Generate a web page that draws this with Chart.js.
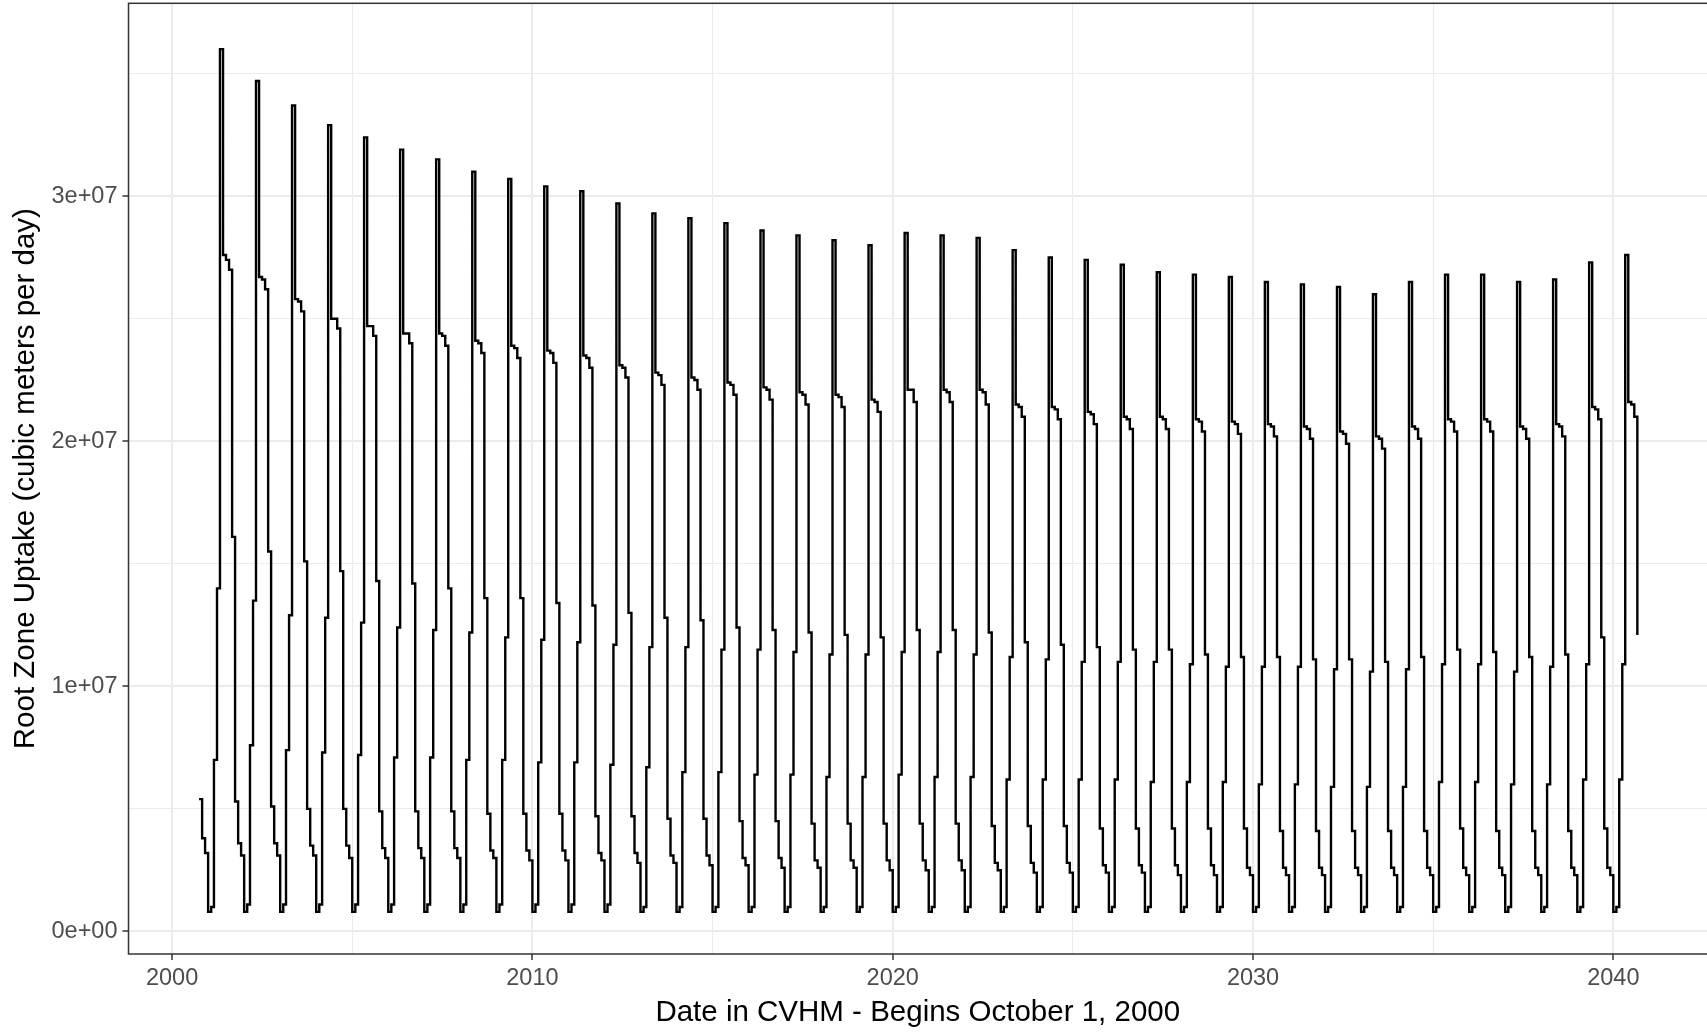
<!DOCTYPE html>
<html>
<head>
<meta charset="utf-8">
<title>Root Zone Uptake</title>
<script src="https://cdn.jsdelivr.net/npm/chart.js@4.4.1/dist/chart.umd.min.js"></script>
<style>
    html, body { margin: 0; padding: 0; background: #ffffff; }
    #wrap { width: 1707px; height: 1033px; }
</style>
</head>
<body>
<div id="wrap"><canvas id="uptakePlot" width="1707" height="1033"></canvas></div>
<script>
// monthly root zone uptake, millions of cubic meters per day
// one row per water year, October ... September (Oct 2000 - Sep 2040)
let firstYear = 2000;
let firstMonth = 9; // October (0-based)

let uptakeMillions = [
    5.4, 3.8, 3.2, 0.8, 1.0, 7.0, 14.0, 36.0, 27.6, 27.4, 27.0, 16.1,   // 2001
    5.3, 3.6, 3.1, 0.8, 1.1, 7.6, 13.5, 34.7, 26.7, 26.6, 26.2, 15.5,   // 2002
    5.1, 3.6, 3.1, 0.8, 1.1, 7.4, 12.9, 33.7, 25.8, 25.7, 25.3, 15.1,   // 2003
    5.0, 3.5, 3.1, 0.8, 1.1, 7.3, 12.8, 32.9, 25.0, 25.0, 24.6, 14.7,   // 2004
    5.0, 3.5, 3.0, 0.8, 1.1, 7.2, 12.6, 32.4, 24.7, 24.7, 24.3, 14.3,   // 2005
    4.9, 3.4, 3.0, 0.8, 1.1, 7.1, 12.4, 31.9, 24.4, 24.4, 24.0, 14.2,   // 2006
    4.9, 3.4, 3.0, 0.8, 1.1, 7.1, 12.3, 31.5, 24.4, 24.3, 23.9, 14.0,   // 2007
    4.9, 3.4, 3.0, 0.8, 1.1, 7.0, 12.2, 31.0, 24.1, 24.0, 23.6, 13.6,   // 2008
    4.8, 3.3, 3.0, 0.8, 1.1, 7.0, 12.0, 30.7, 23.9, 23.8, 23.4, 13.6,   // 2009
    4.8, 3.3, 2.9, 0.8, 1.1, 6.9, 11.9, 30.4, 23.7, 23.6, 23.2, 13.4,   // 2010
    4.8, 3.3, 2.9, 0.8, 1.1, 6.9, 11.8, 30.2, 23.5, 23.4, 23.0, 13.3,   // 2011
    4.7, 3.2, 2.9, 0.8, 1.1, 6.8, 11.7, 29.7, 23.1, 23.0, 22.6, 13.0,   // 2012
    4.7, 3.2, 2.8, 0.8, 1.0, 6.7, 11.6, 29.3, 22.8, 22.7, 22.3, 12.8,   // 2013
    4.6, 3.1, 2.8, 0.8, 1.0, 6.5, 11.6, 29.1, 22.6, 22.5, 22.1, 12.7,   // 2014
    4.6, 3.1, 2.7, 0.8, 1.0, 6.5, 11.5, 28.9, 22.4, 22.3, 21.9, 12.4,   // 2015
    4.5, 3.0, 2.7, 0.8, 1.0, 6.4, 11.5, 28.6, 22.2, 22.1, 21.7, 12.3,   // 2016
    4.5, 3.0, 2.6, 0.8, 1.0, 6.4, 11.4, 28.4, 22.0, 21.9, 21.5, 12.2,   // 2017
    4.4, 2.9, 2.6, 0.8, 1.0, 6.3, 11.3, 28.2, 21.9, 21.8, 21.4, 12.1,   // 2018
    4.4, 2.9, 2.6, 0.8, 1.0, 6.3, 11.3, 28.0, 21.7, 21.6, 21.2, 12.0,   // 2019
    4.4, 2.9, 2.5, 0.8, 1.0, 6.4, 11.4, 28.5, 22.1, 22.1, 21.6, 12.3,   // 2020
    4.4, 2.9, 2.5, 0.8, 1.0, 6.3, 11.4, 28.4, 22.1, 22.0, 21.6, 12.3,   // 2021
    4.4, 2.9, 2.5, 0.8, 1.0, 6.3, 11.3, 28.3, 22.1, 22.0, 21.5, 12.2,   // 2022
    4.3, 2.8, 2.5, 0.8, 1.0, 6.2, 11.2, 27.8, 21.5, 21.4, 21.0, 11.8,   // 2023
    4.3, 2.8, 2.4, 0.8, 1.0, 6.2, 11.1, 27.5, 21.4, 21.3, 20.9, 11.7,   // 2024
    4.3, 2.8, 2.4, 0.8, 1.0, 6.2, 11.0, 27.4, 21.2, 21.1, 20.7, 11.6,   // 2025
    4.2, 2.7, 2.4, 0.8, 1.0, 6.2, 11.0, 27.2, 21.0, 20.9, 20.5, 11.5,   // 2026
    4.2, 2.7, 2.4, 0.8, 1.0, 6.1, 11.0, 26.9, 21.0, 20.9, 20.5, 11.5,   // 2027
    4.2, 2.7, 2.3, 0.8, 1.0, 6.1, 10.9, 26.8, 20.9, 20.8, 20.4, 11.3,   // 2028
    4.2, 2.7, 2.3, 0.8, 1.0, 6.1, 10.8, 26.7, 20.8, 20.7, 20.3, 11.2,   // 2029
    4.2, 2.6, 2.3, 0.8, 1.0, 6.0, 10.8, 26.5, 20.7, 20.6, 20.2, 11.2,   // 2030
    4.1, 2.6, 2.3, 0.8, 1.0, 6.0, 10.8, 26.4, 20.6, 20.5, 20.1, 11.1,   // 2031
    4.1, 2.6, 2.3, 0.8, 1.0, 5.9, 10.7, 26.3, 20.4, 20.3, 19.9, 11.1,   // 2032
    4.1, 2.6, 2.3, 0.8, 1.0, 5.9, 10.6, 26.0, 20.2, 20.1, 19.7, 11.0,   // 2033
    4.1, 2.6, 2.3, 0.8, 1.0, 5.9, 10.7, 26.5, 20.6, 20.5, 20.1, 11.2,   // 2034
    4.1, 2.6, 2.3, 0.8, 1.0, 6.1, 10.9, 26.8, 20.9, 20.8, 20.4, 11.5,   // 2035
    4.2, 2.6, 2.3, 0.8, 1.0, 6.1, 10.9, 26.8, 20.9, 20.8, 20.4, 11.4,   // 2036
    4.1, 2.6, 2.3, 0.8, 1.0, 6.0, 10.6, 26.5, 20.6, 20.5, 20.1, 11.2,   // 2037
    4.1, 2.6, 2.3, 0.8, 1.0, 6.0, 10.8, 26.6, 20.7, 20.6, 20.2, 11.3,   // 2038
    4.1, 2.6, 2.3, 0.8, 1.0, 6.2, 10.9, 27.3, 21.4, 21.3, 20.9, 12.0,   // 2039
    4.2, 2.6, 2.3, 0.8, 1.0, 6.2, 10.9, 27.6, 21.6, 21.5, 21.0, 12.1    // 2040
];

// axis ticks (labelled) and grid positions (major + minor)
let xTickValues = [2000, 2010, 2020, 2030, 2040];
let xTickLabels = ['2000', '2010', '2020', '2030', '2040'];
let xGridValues = [2000, 2005, 2010, 2015, 2020, 2025, 2030, 2035, 2040];

let yTickValues = [0, 1e7, 2e7, 3e7];
let yTickLabels = ['0e+00', '1e+07', '2e+07', '3e+07'];
let yGridValues = [0, 5e6, 1e7, 1.5e7, 2e7, 2.5e7, 3e7, 3.5e7];

// month index -> decimal year, value -> m3/day
let points = uptakeMillions.map((v, i) => {
    let m = firstMonth + i;
    let year = firstYear + Math.floor(m / 12);
    let month = m % 12;
    let start = Date.UTC(year, 0, 1);
    let frac = (Date.UTC(year, month, 1) - start) / (Date.UTC(year + 1, 0, 1) - start);
    return {x: year + frac, y: v * 1e6};
});

let fontFamily = "'Liberation Sans', Arial, sans-serif";

// panel border drawn on top like ggplot theme_bw
let panelBorder = {
    id: 'panelBorder',
    afterDatasetsDraw(chart) {
        let ctx = chart.ctx;
        let a = chart.chartArea;
        ctx.save();
        ctx.strokeStyle = '#333333';
        ctx.lineWidth = 1.5;
        ctx.strokeRect(a.left, a.top, a.right - a.left + 20, a.bottom - a.top);
        ctx.restore();
    }
};

let isMajor = (list, v) => list.indexOf(v) >= 0;

let plot = document.getElementById('uptakePlot').getContext('2d');

new Chart(plot, {
    type: 'line',
    data: {
        datasets: [{
            data: points,
            borderColor: '#000000',
            borderWidth: 2.4,
            pointRadius: 0,
            fill: false,
            stepped: true,
            tension: 0
        }]
    },
    options: {
        responsive: false,
        animation: false,
        devicePixelRatio: 1,
        layout: { padding: { top: 3.3, left: 0, right: 0, bottom: 0 } },
        plugins: {
            legend: { display: false },
            tooltip: { enabled: false }
        },
        scales: {
            x: {
                type: 'linear',
                min: 1998.79,
                max: 2042.6,
                afterBuildTicks: s => { s.ticks = xGridValues.map(v => ({value: v})); },
                afterFit: s => {
                    s.height = 79;
                    s.paddingLeft = 0;
                    s.paddingRight = 0;
                },
                border: { display: false },
                grid: {
                    color: '#EBEBEB',
                    lineWidth: c => (c.tick && isMajor(xTickValues, c.tick.value)) ? 2 : 1.1,
                    tickColor: c => (c.tick && isMajor(xTickValues, c.tick.value)) ? '#333333' : 'rgba(0,0,0,0)',
                    tickLength: 6,
                    tickWidth: 1.5
                },
                ticks: {
                    autoSkip: false,
                    maxRotation: 0,
                    padding: 4.5,
                    color: '#4D4D4D',
                    font: { family: fontFamily, size: 23.5 },
                    callback: v => {
                        let k = xTickValues.indexOf(v);
                        return k >= 0 ? xTickLabels[k] : '';
                    }
                },
                title: {
                    display: true,
                    text: 'Date in CVHM - Begins October 1, 2000',
                    color: '#000000',
                    font: { family: fontFamily, size: 29.5 },
                    padding: { top: 0, bottom: 2 }
                }
            },
            y: {
                type: 'linear',
                min: -0.92e6,
                max: 3.787e7,
                afterBuildTicks: s => { s.ticks = yGridValues.map(v => ({value: v})); },
                afterFit: s => {
                    s.width = 128.5;
                    s.paddingTop = 0;
                    s.paddingBottom = 0;
                },
                border: { display: false },
                grid: {
                    color: '#EBEBEB',
                    lineWidth: c => (c.tick && isMajor(yTickValues, c.tick.value)) ? 2 : 1.1,
                    tickColor: c => (c.tick && isMajor(yTickValues, c.tick.value)) ? '#333333' : 'rgba(0,0,0,0)',
                    tickLength: 6,
                    tickWidth: 1.5
                },
                ticks: {
                    autoSkip: false,
                    padding: 5,
                    color: '#4D4D4D',
                    font: { family: fontFamily, size: 23.5 },
                    callback: v => {
                        let k = yTickValues.indexOf(v);
                        return k >= 0 ? yTickLabels[k] : '';
                    }
                },
                title: {
                    display: true,
                    text: 'Root Zone Uptake (cubic meters per day)',
                    color: '#000000',
                    font: { family: fontFamily, size: 29.5 },
                    padding: { top: 8.3, bottom: 0 }
                }
            }
        }
    },
    plugins: [panelBorder]
});
</script>
</body>
</html>
